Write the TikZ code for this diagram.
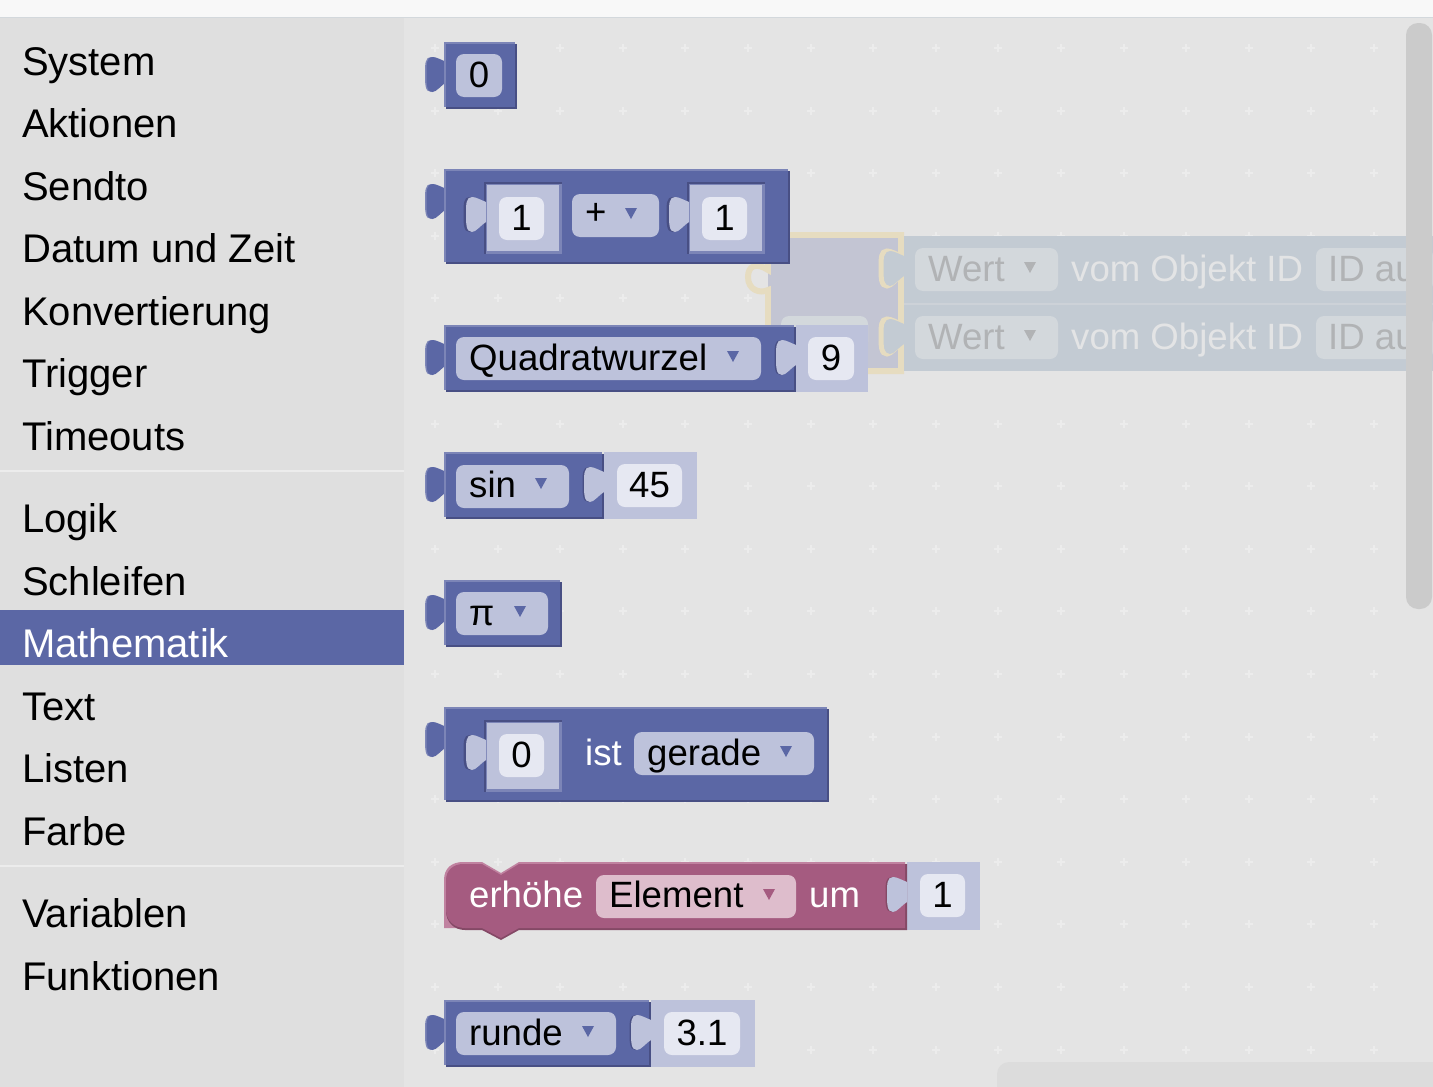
\documentclass[tikz,border=0pt]{standalone}
\usepackage{fontspec}
\setmainfont{Liberation Sans}
\definecolor{pagebg}{HTML}{E4E4E4}
\definecolor{menubg}{HTML}{DFDFDF}
\definecolor{topbar}{HTML}{F8F8F8}
\definecolor{menuline}{HTML}{ECECEC}
\definecolor{griddot}{HTML}{ECECEC}
\definecolor{mathfill}{HTML}{5B67A5}
\definecolor{mathlight}{HTML}{7C85B7}
\definecolor{mathdark}{HTML}{484F84}
\definecolor{slotfill}{HTML}{BDC2DB}
\definecolor{numfill}{HTML}{E6E8F2}
\definecolor{pinkfill}{HTML}{A55B80}
\definecolor{pinklight}{HTML}{C082A0}
\definecolor{pinkdark}{HTML}{844966}
\definecolor{pinkdrop}{HTML}{DEBDCC}
\definecolor{ghostrow}{HTML}{C3CBD3}
\definecolor{ghostline}{HTML}{CDD2D8}
\definecolor{ghostdrop}{HTML}{D3D8DC}
\definecolor{ghosttext}{HTML}{B1B3B5}
\definecolor{ghostword}{HTML}{E3E4E5}
\definecolor{ghostblock}{HTML}{C3C5D3}
\definecolor{glow}{HTML}{E6DCC0}
\definecolor{scrollv}{HTML}{CBCBCB}
\definecolor{scrollh}{HTML}{DCDCDC}

\tikzset{
  menuitem/.style={anchor=base west,inner sep=0pt,font=\fontsize{40}{48}\selectfont},
  blocklabel/.style={anchor=base west,inner sep=0pt,font=\fontsize{36.6}{44}\selectfont},
  numlabel/.style={anchor=base,inner sep=0pt,font=\fontsize{36.6}{44}\selectfont},
  ghostlabel/.style={blocklabel,text=ghosttext},
  ghostvom/.style={blocklabel,text=ghostword}
}

% puzzle tab: x of the neck, y of the top of the block
\newcommand{\puzzletab}[2]{(#1,#2+40) .. controls (#1-5,#2+43) and (#1-10,#2+50) .. (#1-14,#2+50)
  .. controls (#1-20,#2+50) and (#1-20,#2+42) .. (#1-20,#2+32)
  .. controls (#1-20,#2+22) and (#1-20,#2+15) .. (#1-14,#2+15)
  .. controls (#1-10,#2+15) and (#1-5,#2+18) .. (#1,#2+20) -- cycle}
% x1 x2 y1 y2
\newcommand{\mathblock}[4]{
  \fill[mathlight] \puzzletab{#1+1}{#3};
  \fill[mathfill] \puzzletab{#1+2.5}{#3};
  \fill[mathdark] (#1+2,#3+2) rectangle (#2,#4);
  \fill[mathlight] (#1,#3) rectangle (#2-2,#4-2);
  \fill[mathfill] (#1+2,#3+2) rectangle (#2-2,#4-2);
}
% x1 x2 y1 y2, a socket with a value behind it
\newcommand{\slotopen}[4]{
  \fill[slotfill] (#1,#3) rectangle (#2,#4);
  \fill[#1 dark] \puzzletab{#1-1.5}{#3};
}
\newcommand{\slotright}[5]{
  \fill[slotfill] (#1,#3) rectangle (#2,#4);
  \fill[#5] \puzzletab{#1-1.5}{#3};
  \fill[slotfill] \puzzletab{#1}{#3};
}
% x1 x2 y1 y2, a socket inside a block
\newcommand{\slotinner}[4]{
  \fill[mathdark] (#1,#3) rectangle (#2,#4);
  \fill[mathlight] (#1+2,#3+2) rectangle (#2,#4);
  \fill[slotfill] (#1+3,#3+3) rectangle (#2-3,#4-3);
  \fill[mathdark] \puzzletab{#1-0.5}{#3};
  \fill[slotfill] \puzzletab{#1+2}{#3};
}
% name x1 x2 y text, y is the baseline
\newcommand{\numfield}[5]{
  \fill[numfill,rounded corners=8pt] (#2,#4-33) rectangle (#3,#4+10);
  \node[numlabel] (#1) at ({(#2+#3)/2},#4) {#5};
}
% x1 x2 y colour
\newcommand{\dropbox}[4]{
  \fill[#4,rounded corners=8pt] (#1,#3) rectangle (#2,#3+43);
}
% x y colour
\newcommand{\droparrow}[3]{
  \fill[#3] (#1-6,#2-6) -- (#1+6,#2-6) -- (#1,#2+5) -- cycle;
}

\begin{document}
\begin{tikzpicture}[x=1pt,y=-1pt]
  \useasboundingbox (0,0) rectangle (1433,1087);
  \fill[pagebg] (0,0) rectangle (1433,1087);
  \fill[topbar] (0,0) rectangle (1433,17);
  \draw[ghostdrop,line width=1pt] (0,17.5) -- (1433,17.5);
  \fill[menubg] (0,18) rectangle (404,1087);
  \fill[mathfill] (0,610) rectangle (404,665);
  \draw[menuline,line width=2pt] (0,471) -- (404,471);
  \draw[menuline,line width=2pt] (0,866) -- (404,866);

  \foreach \n/\y/\t in {mSystem/75/System,mAktionen/137/Aktionen,mSendto/200/Sendto,mDatum/262/Datum und Zeit,
      mKonv/325/Konvertierung,mTrigger/387/Trigger,mTimeouts/450/Timeouts,mLogik/532/Logik,
      mSchleifen/595/Schleifen,mText/720/Text,mListen/782/Listen,mFarbe/845/Farbe,
      mVariablen/927/Variablen,mFunktionen/990/Funktionen} {
    \node[menuitem] (\n) at (22,\y) {\t};
  }
  \node[menuitem,text=white] (mMathematik) at (22,657) {Mathematik};

  \foreach \i in {0,...,15} {
    \foreach \j in {0,...,16} {
      \draw[griddot,line width=2pt] (435+62.6*\i-4,48+62.6*\j) -- (435+62.6*\i+4,48+62.6*\j)
        (435+62.6*\i,48+62.6*\j-4) -- (435+62.6*\i,48+62.6*\j+4);
    }
  }

  % the block being dragged
  \fill[ghostblock] (768,234) rectangle (901,370);
  \draw[glow,line width=6pt] (768,325) -- (768,290) .. controls (760,294) and (748,290) .. (748,277)
    .. controls (748,266) and (756,262) .. (768,270) -- (768,235) -- (901,235) -- (901,371) -- (868,371);
  \fill[ghostblock] (771,238) rectangle (898,368);
  \fill[ghostrow,draw=glow,line width=5pt] \puzzletab{901}{236};
  \fill[ghostrow,draw=glow,line width=5pt] \puzzletab{901}{304};
  \fill[ghostdrop,rounded corners=8pt] (781,316) rectangle (868,350);
  \fill[ghostrow] (904,236) rectangle (1433,303);
  \fill[ghostrow] (904,305) rectangle (1433,371);
  \fill[ghostrow] \puzzletab{904}{236};
  \fill[ghostrow] \puzzletab{904}{304};
  \draw[ghostline,line width=2pt] (904,304) -- (1433,304);
  \dropbox{915}{1058}{248}{ghostdrop}
  \dropbox{915}{1058}{316}{ghostdrop}
  \dropbox{1316}{1433}{248}{ghostdrop}
  \dropbox{1316}{1433}{316}{ghostdrop}
  \droparrow{1030}{268}{ghosttext}
  \droparrow{1030}{336}{ghosttext}
  \node[ghostlabel] (wertA) at (928,281) {Wert};
  \node[ghostlabel] (wertB) at (928,349) {Wert};
  \node[ghostvom] (vomA) at (1071,281) {vom Objekt ID};
  \node[ghostvom] (vomB) at (1071,349) {vom Objekt ID};
  \node[ghostlabel] (idA) at (1328,281) {ID au};
  \node[ghostlabel] (idB) at (1328,349) {ID au};

  % number
  \mathblock{444}{517}{42}{109}
  \dropbox{456}{502}{54}{slotfill}
  \node[numlabel] (zahl) at (479,87) {0};

  % plus
  \mathblock{444}{790}{169}{264}
  \slotinner{484}{562}{182}{254}
  \numfield{plusA}{499}{544}{230}{1}
  \dropbox{572}{659}{194}{slotfill}
  \node[blocklabel] (plusOp) at (585,224) {+};
  \droparrow{631}{214}{mathfill}
  \slotinner{687}{765}{182}{254}
  \numfield{plusB}{702}{747}{230}{1}

  % root
  \slotright{796}{868}{325}{392}{mathdark}
  \mathblock{444}{796}{325}{392}
  \fill[mathdark] \puzzletab{794.5}{325};
  \fill[slotfill] \puzzletab{796}{325};
  \dropbox{456}{761}{337}{slotfill}
  \node[blocklabel] (wurzel) at (469,370) {Quadratwurzel};
  \droparrow{733}{357}{mathfill}
  \numfield{wurzelNum}{808}{854}{370}{9}

  % sin
  \slotright{604}{697}{452}{519}{mathdark}
  \mathblock{444}{604}{452}{519}
  \fill[mathdark] \puzzletab{602.5}{452};
  \fill[slotfill] \puzzletab{604}{452};
  \dropbox{456}{569}{465}{slotfill}
  \node[blocklabel] (sinus) at (469,497) {sin};
  \droparrow{541}{484}{mathfill}
  \numfield{sinusNum}{617}{682}{497}{45}

  % pi
  \mathblock{444}{562}{580}{647}
  \dropbox{456}{548}{592}{slotfill}
  \node[blocklabel] (pikonst) at (469,625) {π};
  \droparrow{520}{612}{mathfill}

  % even
  \mathblock{444}{829}{707}{802}
  \slotinner{484}{562}{720}{792}
  \numfield{geradeNum}{499}{544}{767}{0}
  \node[blocklabel,text=white] (ist) at (585,765) {ist};
  \dropbox{634}{814}{732}{slotfill}
  \node[blocklabel] (gerade) at (647,765) {gerade};
  \droparrow{786}{752}{mathfill}

  % increase
  \fill[slotfill] (907,862) rectangle (980,930);
  \fill[pinklight] (444,880) .. controls (444,868) and (452,862) .. (463,862) -- (482,862) -- (501,873)
    -- (519,862) -- (905,862) -- (905,928) -- (444,928) -- cycle;
  \fill[pinkdark] (446,882) -- (446,911) .. controls (446,922) and (454,930) .. (465,930) -- (482,930)
    -- (501,940) -- (519,930) -- (907,930) -- (907,864) -- cycle;
  \fill[pinkfill] (446,880) .. controls (446,870) and (454,864) .. (463,864) -- (482,864) -- (501,875)
    -- (519,864) -- (905,864) -- (905,928) -- (519,928) -- (501,938) -- (482,928) -- (465,928)
    .. controls (454,928) and (446,920) .. (446,910) -- cycle;
  \fill[pinkdark] \puzzletab{905.5}{862};
  \fill[slotfill] \puzzletab{907}{862};
  \node[blocklabel,text=white] (erhoehe) at (469,907) {erhöhe};
  \dropbox{596}{796}{875}{pinkdrop}
  \node[blocklabel] (element) at (609,907) {Element};
  \droparrow{769}{895}{pinkfill}
  \node[blocklabel,text=white] (um) at (809,907) {um};
  \numfield{erhoeheNum}{920}{965}{907}{1}

  % round
  \slotright{651}{755}{1000}{1067}{mathdark}
  \mathblock{444}{651}{1000}{1067}
  \fill[mathdark] \puzzletab{649.5}{1000};
  \fill[slotfill] \puzzletab{651}{1000};
  \dropbox{456}{616}{1012}{slotfill}
  \node[blocklabel] (runde) at (469,1045) {runde};
  \droparrow{588}{1032}{mathfill}
  \numfield{rundeNum}{664}{740}{1045}{3.1}

  % scrollbars
  \fill[scrollv,rounded corners=12pt] (1406,23) rectangle (1432,609);
  \fill[scrollh,rounded corners=12pt] (997,1062) rectangle (1445,1100);
\end{tikzpicture}
\end{document}
